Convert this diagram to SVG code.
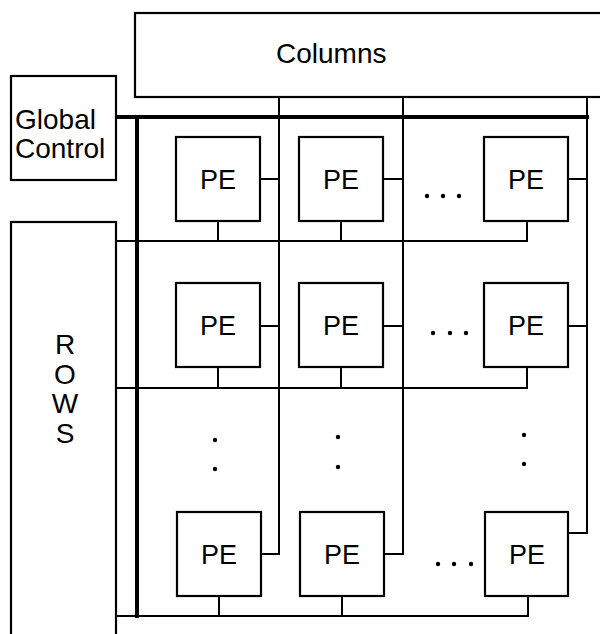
<svg xmlns="http://www.w3.org/2000/svg" width="600" height="634" viewBox="0 0 600 634">
<style>
.box{fill:#fff;stroke:#000;stroke-width:2.2}
.ln{stroke:#000;stroke-width:2;fill:none;stroke-linecap:square}
.bus{stroke:#000;stroke-width:4;fill:none;stroke-linecap:square}
.t{font-family:"Liberation Sans",Arial,Helvetica,sans-serif;font-size:28px;fill:#000}
.pe{font-family:"Liberation Sans",Arial,Helvetica,sans-serif;font-size:27px;fill:#000;text-anchor:middle}
.dot{fill:#000}
</style>
<rect width="600" height="634" fill="#fff"/>
<g id="columns"><rect class="box" x="135" y="13" width="475" height="84"/><text class="t" x="276" y="63">Columns</text></g>
<g id="global-control"><rect class="box" x="11" y="76" width="105" height="104"/><text class="t" x="15" y="129">Global</text><text class="t" x="15" y="158">Control</text></g>
<g id="rows"><rect class="box" x="11" y="222" width="105" height="430"/>
<text class="t" x="65" y="354" text-anchor="middle">R</text>
<text class="t" x="65" y="384" text-anchor="middle">O</text>
<text class="t" x="65" y="413" text-anchor="middle">W</text>
<text class="t" x="65" y="443" text-anchor="middle">S</text></g>
<g id="connectors">
<line class="bus" x1="117" y1="117" x2="587" y2="117"/>
<line class="bus" x1="137" y1="117" x2="137" y2="616"/>
<polyline class="ln" points="279,97 279,554 260,554"/>
<polyline class="ln" points="403,97 403,554 383,554"/>
<polyline class="ln" points="587,97 587,533 568,533"/>
<line class="ln" x1="260" y1="179" x2="279" y2="179"/>
<line class="ln" x1="383" y1="179" x2="403" y2="179"/>
<line class="ln" x1="568" y1="179" x2="587" y2="179"/>
<line class="ln" x1="260" y1="326" x2="279" y2="326"/>
<line class="ln" x1="383" y1="326" x2="403" y2="326"/>
<line class="ln" x1="568" y1="326" x2="587" y2="326"/>
<polyline class="ln" points="117,241 527,241 527,221"/>
<line class="ln" x1="218" y1="221" x2="218" y2="241"/>
<line class="ln" x1="341" y1="221" x2="341" y2="241"/>
<polyline class="ln" points="117,388 527,388 527,367"/>
<line class="ln" x1="218" y1="367" x2="218" y2="388"/>
<line class="ln" x1="341" y1="367" x2="341" y2="388"/>
<polyline class="ln" points="117,616 528,616 528,596"/>
<line class="ln" x1="219" y1="596" x2="219" y2="616"/>
<line class="ln" x1="342" y1="596" x2="342" y2="616"/>
</g>
<g id="pe-1-1"><rect class="box" x="176" y="137" width="84" height="84"/><text class="pe" x="218" y="189">PE</text></g>
<g id="pe-1-2"><rect class="box" x="299" y="137" width="84" height="84"/><text class="pe" x="341" y="189">PE</text></g>
<g id="pe-1-n"><rect class="box" x="484" y="137" width="84" height="84"/><text class="pe" x="526" y="189">PE</text></g>
<g id="pe-2-1"><rect class="box" x="176" y="283" width="84" height="84"/><text class="pe" x="218" y="335">PE</text></g>
<g id="pe-2-2"><rect class="box" x="299" y="283" width="84" height="84"/><text class="pe" x="341" y="335">PE</text></g>
<g id="pe-2-n"><rect class="box" x="484" y="283" width="84" height="84"/><text class="pe" x="526" y="335">PE</text></g>
<g id="pe-n-1"><rect class="box" x="177" y="512" width="84" height="84"/><text class="pe" x="219" y="564">PE</text></g>
<g id="pe-n-2"><rect class="box" x="300" y="512" width="84" height="84"/><text class="pe" x="342" y="564">PE</text></g>
<g id="pe-n-n"><rect class="box" x="485" y="512" width="83" height="84"/><text class="pe" x="527" y="564">PE</text></g>
<g id="ellipses">
<circle class="dot" cx="427" cy="196" r="2.2"/><circle class="dot" cx="443" cy="196" r="2.2"/><circle class="dot" cx="459" cy="196" r="2.2"/>
<circle class="dot" cx="433" cy="333" r="2.2"/><circle class="dot" cx="450" cy="333" r="2.2"/><circle class="dot" cx="466" cy="333" r="2.2"/>
<circle class="dot" cx="438" cy="564" r="2.2"/><circle class="dot" cx="454" cy="564" r="2.2"/><circle class="dot" cx="471" cy="564" r="2.2"/>
<circle class="dot" cx="215" cy="440" r="2.2"/><circle class="dot" cx="215" cy="469" r="2.2"/>
<circle class="dot" cx="338" cy="437" r="2.2"/><circle class="dot" cx="338" cy="467" r="2.2"/>
<circle class="dot" cx="524" cy="435" r="2.2"/><circle class="dot" cx="524" cy="464" r="2.2"/>
</g>
</svg>
